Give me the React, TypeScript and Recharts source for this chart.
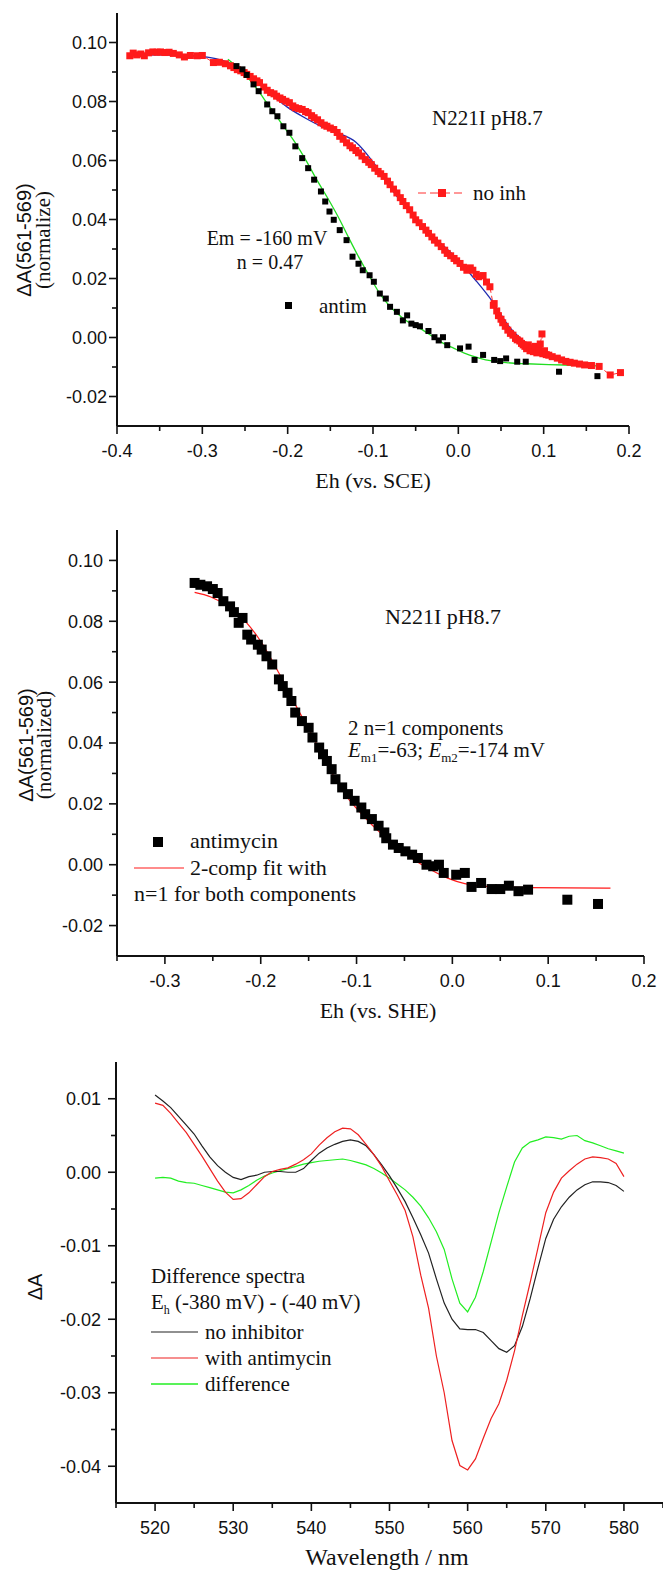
import React from 'react';
import { ComposedChart, XAxis, YAxis, Scatter, Line } from 'recharts';

// ---- panel 1: Eh (vs. SCE) titration ----
const p1XMajor = [-0.4, -0.3, -0.2, -0.1, 0.0, 0.1, 0.2];
const p1XMinor = [-0.35, -0.25, -0.15, -0.05, 0.05, 0.15];
const p1YMajor = [-0.02, 0.0, 0.02, 0.04, 0.06, 0.08, 0.1];
const p1YMinor = [-0.01, 0.01, 0.03, 0.05, 0.07, 0.09];

// red squares, no inhibitor [Eh, dA]
const noInhPoints: [number, number][] = [
  [-0.385, 0.0955], [-0.381, 0.0964], [-0.377, 0.0958], [-0.372, 0.0961], [-0.368, 0.0955], [-0.363, 0.0965],
  [-0.358, 0.0968], [-0.353, 0.0967], [-0.349, 0.0968], [-0.344, 0.0966], [-0.339, 0.0967], [-0.334, 0.0963],
  [-0.327, 0.0958], [-0.321, 0.0951], [-0.314, 0.0956], [-0.306, 0.0955], [-0.3, 0.0956], [-0.287, 0.0932],
  [-0.28, 0.0933], [-0.273, 0.0928], [-0.267, 0.0921], [-0.263, 0.0915], [-0.259, 0.0908], [-0.255, 0.0904],
  [-0.251, 0.0898], [-0.248, 0.0892], [-0.244, 0.0885], [-0.24, 0.0877], [-0.236, 0.087], [-0.233, 0.0864],
  [-0.228, 0.0849], [-0.224, 0.0838], [-0.22, 0.083], [-0.216, 0.0826], [-0.213, 0.0818], [-0.209, 0.0812],
  [-0.206, 0.0807], [-0.202, 0.0801], [-0.198, 0.0796], [-0.194, 0.0785], [-0.191, 0.0779], [-0.187, 0.0776],
  [-0.183, 0.0773], [-0.179, 0.0766], [-0.176, 0.0762], [-0.172, 0.0752], [-0.169, 0.0745], [-0.165, 0.0738],
  [-0.161, 0.0728], [-0.157, 0.072], [-0.154, 0.0716], [-0.15, 0.071], [-0.146, 0.0705], [-0.142, 0.0695],
  [-0.139, 0.0682], [-0.135, 0.0672], [-0.131, 0.066], [-0.127, 0.065], [-0.124, 0.0643], [-0.12, 0.0634],
  [-0.117, 0.0626], [-0.113, 0.0615], [-0.109, 0.0603], [-0.105, 0.0594], [-0.102, 0.0586], [-0.098, 0.0574],
  [-0.094, 0.0563], [-0.091, 0.0555], [-0.087, 0.0546], [-0.083, 0.053], [-0.08, 0.0518], [-0.076, 0.0503],
  [-0.072, 0.049], [-0.068, 0.0474], [-0.065, 0.0461], [-0.061, 0.0447], [-0.057, 0.0433], [-0.053, 0.0415],
  [-0.05, 0.0399], [-0.046, 0.0389], [-0.042, 0.0376], [-0.038, 0.0364], [-0.035, 0.0353], [-0.031, 0.0341],
  [-0.028, 0.033], [-0.024, 0.032], [-0.02, 0.0308], [-0.016, 0.0296], [-0.013, 0.0285], [-0.009, 0.0277],
  [-0.005, 0.0268], [-0.002, 0.026], [0.002, 0.0251], [0.006, 0.0238], [0.01, 0.0228], [0.014, 0.0236],
  [0.017, 0.0228], [0.021, 0.0214], [0.024, 0.0206], [0.029, 0.021], [0.033, 0.0188], [0.037, 0.0172],
  [0.041, 0.0109], [0.042, 0.0115], [0.045, 0.009], [0.047, 0.0074], [0.05, 0.0062], [0.052, 0.005],
  [0.055, 0.0038], [0.058, 0.0025], [0.061, 0.0014], [0.064, 0.0008], [0.067, -0.0003], [0.069, -0.0008],
  [0.072, -0.0012], [0.074, -0.002], [0.076, -0.0025], [0.078, -0.003], [0.08, -0.0038], [0.082, -0.0025],
  [0.084, -0.0045], [0.086, -0.0035], [0.088, -0.0048], [0.09, -0.003], [0.092, -0.0052], [0.094, -0.004],
  [0.096, -0.0022], [0.098, 0.0012], [0.099, -0.0055], [0.101, -0.0045], [0.103, -0.0058], [0.106, -0.006],
  [0.11, -0.0065], [0.116, -0.007], [0.121, -0.0076], [0.126, -0.0081], [0.131, -0.0084], [0.136, -0.0087],
  [0.142, -0.009], [0.148, -0.0093], [0.156, -0.0095], [0.165, -0.0098], [0.178, -0.0127], [0.19, -0.0119],
];

// blue fit through no-inhibitor data
const noInhFit: [number, number][] = [
  [-0.385, 0.0957], [-0.35, 0.0958], [-0.32, 0.0955], [-0.3, 0.0952], [-0.28, 0.0942], [-0.26, 0.092],
  [-0.24, 0.0877], [-0.22, 0.0825], [-0.2, 0.078], [-0.18, 0.0745], [-0.16, 0.0715], [-0.14, 0.0692],
  [-0.12, 0.0662], [-0.1, 0.0595], [-0.08, 0.051], [-0.06, 0.0435], [-0.04, 0.0372], [-0.02, 0.0318],
  [0.0, 0.0262], [0.02, 0.0195], [0.04, 0.0122], [0.06, 0.0035], [0.08, -0.002], [0.1, -0.006],
  [0.12, -0.008], [0.14, -0.009], [0.16, -0.0095],
];

// black squares, antimycin (SCE scale)
const antimPoints: [number, number][] = [
  [-0.26, 0.092], [-0.253, 0.0909], [-0.248, 0.089], [-0.24, 0.0858], [-0.234, 0.0835], [-0.224, 0.079],
  [-0.218, 0.0767], [-0.212, 0.075], [-0.205, 0.0716], [-0.198, 0.0694], [-0.191, 0.0648], [-0.183, 0.0608],
  [-0.176, 0.0574], [-0.169, 0.0535], [-0.161, 0.0495], [-0.156, 0.0461], [-0.151, 0.0427], [-0.146, 0.0399],
  [-0.139, 0.0364], [-0.131, 0.033], [-0.124, 0.0274], [-0.117, 0.025], [-0.112, 0.0228], [-0.104, 0.0211],
  [-0.099, 0.0189], [-0.092, 0.0149], [-0.085, 0.0132], [-0.08, 0.0104], [-0.072, 0.0087], [-0.065, 0.0058],
  [-0.06, 0.0075], [-0.055, 0.0047], [-0.05, 0.0042], [-0.045, 0.0038], [-0.035, 0.0022], [-0.028, 0.0001],
  [-0.023, -0.001], [-0.018, 0.0001], [-0.013, -0.0026], [0.002, -0.0037], [0.012, -0.0031], [0.019, -0.0076],
  [0.029, -0.0059], [0.042, -0.0076], [0.049, -0.008], [0.056, -0.0071], [0.069, -0.0082], [0.079, -0.0082],
  [0.118, -0.0116], [0.163, -0.0131],
];

// green fit (Em = -160 mV, n = 0.47)
const antimFit: [number, number][] = [
  [-0.27, 0.0943], [-0.255, 0.0905], [-0.24, 0.0858], [-0.228, 0.081], [-0.216, 0.0762], [-0.204, 0.0712],
  [-0.191, 0.066], [-0.178, 0.0598], [-0.166, 0.0535], [-0.153, 0.0472], [-0.141, 0.041], [-0.129, 0.0341],
  [-0.117, 0.0274], [-0.104, 0.0207], [-0.092, 0.0149], [-0.08, 0.0105], [-0.067, 0.007], [-0.055, 0.0045],
  [-0.042, 0.0026], [-0.03, 0.0003], [-0.018, -0.0019], [-0.005, -0.0037], [0.007, -0.0053], [0.02, -0.0066],
  [0.032, -0.0076], [0.044, -0.0081], [0.056, -0.0085], [0.08, -0.0089], [0.106, -0.0092], [0.135, -0.0094],
  [0.163, -0.0096],
];

// ---- panel 2: Eh (vs. SHE), antimycin ----
const p2XMajor = [-0.3, -0.2, -0.1, 0.0, 0.1, 0.2];
const p2XMinor = [-0.35, -0.25, -0.15, -0.05, 0.05, 0.15];

const antimycinPoints: [number, number][] = [
  [-0.269, 0.0926], [-0.263, 0.092], [-0.256, 0.0915], [-0.25, 0.0906], [-0.245, 0.0893], [-0.239, 0.0866],
  [-0.232, 0.0849], [-0.228, 0.083], [-0.223, 0.0795], [-0.219, 0.0811], [-0.214, 0.0756], [-0.21, 0.074],
  [-0.203, 0.0723], [-0.199, 0.0707], [-0.194, 0.0685], [-0.188, 0.0658], [-0.181, 0.0609], [-0.177, 0.0587],
  [-0.172, 0.0565], [-0.168, 0.0538], [-0.164, 0.05], [-0.157, 0.0472], [-0.15, 0.045], [-0.146, 0.0418],
  [-0.139, 0.0385], [-0.135, 0.0363], [-0.131, 0.0341], [-0.126, 0.0314], [-0.122, 0.0281], [-0.115, 0.0254],
  [-0.109, 0.0232], [-0.102, 0.021], [-0.095, 0.0188], [-0.091, 0.0166], [-0.084, 0.015], [-0.077, 0.0128],
  [-0.071, 0.0106], [-0.069, 0.0087], [-0.062, 0.0066], [-0.056, 0.0055], [-0.049, 0.0044], [-0.042, 0.0033],
  [-0.036, 0.0022], [-0.027, 0.0], [-0.02, -0.0005], [-0.014, 0.0], [-0.009, -0.0027], [0.004, -0.0033],
  [0.013, -0.0027], [0.02, -0.0073], [0.03, -0.006], [0.041, -0.008], [0.05, -0.008], [0.059, -0.0069],
  [0.069, -0.0087], [0.079, -0.0082], [0.12, -0.0115], [0.152, -0.0129],
];

const twoCompFit: [number, number][] = [
  [-0.269, 0.0895], [-0.252, 0.088], [-0.234, 0.0849], [-0.216, 0.08], [-0.199, 0.0729], [-0.181, 0.063],
  [-0.164, 0.0527], [-0.146, 0.0423], [-0.128, 0.0314], [-0.111, 0.0227], [-0.093, 0.0161], [-0.076, 0.0107],
  [-0.058, 0.006], [-0.04, 0.0016], [-0.023, -0.0016], [-0.005, -0.0044], [0.013, -0.0062], [0.035, -0.0071],
  [0.079, -0.0075], [0.165, -0.0077],
];

// ---- panel 3: difference spectra ----
const p3XMajor = [520, 530, 540, 550, 560, 570, 580];
const p3XMinor = [515, 525, 535, 545, 555, 565, 575, 585];
const p3YMajor = [-0.04, -0.03, -0.02, -0.01, 0.0, 0.01];
const p3YMinor = [-0.035, -0.025, -0.015, -0.005, 0.005];

const wavelengths = [
  520, 521, 522, 523, 524, 525, 526, 527, 528, 529, 530, 531, 532, 533, 534, 535, 536, 537, 538, 539, 540,
  541, 542, 543, 544, 545, 546, 547, 548, 549, 550, 551, 552, 553, 554, 555, 556, 557, 558, 559, 560,
  561, 562, 563, 564, 565, 566, 567, 568, 569, 570, 571, 572, 573, 574, 575, 576, 577, 578, 579, 580,
];
const noInhibitor = [
  0.0105, 0.0097, 0.0088, 0.0076, 0.0064, 0.0052, 0.0036, 0.0021, 0.0009, 0.0, -0.0007,
  -0.001, -0.0006, -0.0004, 0.0, 0.0001, 0.0001, 0.0, 0.0, 0.0005, 0.0016,
  0.0026, 0.0033, 0.0038, 0.0042, 0.0044, 0.0042, 0.0036, 0.0024, 0.001, -0.0005,
  -0.0022, -0.004, -0.0062, -0.0085, -0.011, -0.0145, -0.0178, -0.02, -0.0213, -0.0214,
  -0.0214, -0.0218, -0.0229, -0.024, -0.0245, -0.0236, -0.021, -0.0172, -0.013, -0.009,
  -0.0064, -0.0047, -0.0034, -0.0024, -0.0017, -0.0013, -0.0013, -0.0014, -0.0018, -0.0026,
];
const withAntimycin = [
  0.0094, 0.0091, 0.008, 0.0067, 0.0054, 0.0038, 0.0022, 0.0005, -0.0012, -0.0027, -0.0037,
  -0.0036, -0.0028, -0.0017, -0.0006, 0.0001, 0.0004, 0.0006, 0.0011, 0.0017, 0.0025,
  0.0037, 0.0047, 0.0055, 0.006, 0.0059, 0.0051, 0.0038, 0.0024, 0.0008, -0.0012,
  -0.0031, -0.0052, -0.0088, -0.014, -0.0185, -0.025, -0.03, -0.0365, -0.0399, -0.0405,
  -0.039, -0.0362, -0.0335, -0.0315, -0.0283, -0.0243, -0.0195, -0.015, -0.0103, -0.0055,
  -0.0027, -0.0008, 0.0002, 0.0011, 0.0018, 0.0021, 0.002, 0.0018, 0.0012, -0.0006,
];
const difference = [
  -0.0008, -0.0007, -0.0008, -0.0012, -0.0014, -0.0015, -0.0018, -0.0021, -0.0024, -0.0027, -0.0028,
  -0.0024, -0.0018, -0.0011, -0.0005, -0.0001, 0.0002, 0.0005, 0.0008, 0.0011, 0.0013,
  0.0015, 0.0016, 0.0017, 0.0018, 0.0016, 0.0013, 0.001, 0.0005, -0.0001, -0.0008,
  -0.0016, -0.0024, -0.0034, -0.0046, -0.0062, -0.0081, -0.0105, -0.0145, -0.0178, -0.019,
  -0.017, -0.0135, -0.0095, -0.0055, -0.002, 0.0014, 0.0033, 0.0041, 0.0044, 0.0048,
  0.0047, 0.0045, 0.0049, 0.005, 0.0043, 0.004, 0.0036, 0.0032, 0.0029, 0.0026,
];

const SANS = "'Liberation Sans', Arial, sans-serif";
const SERIF = "'Liberation Serif', 'Times New Roman', serif";

const toXY = (pts: [number, number][]) => pts.map(([x, y]) => ({ x, y }));
const spectrum = wavelengths.map((w, i) => ({
  x: w,
  black: noInhibitor[i],
  red: withAntimycin[i],
  green: difference[i],
}));

const isIn = (list: number[], v: number) => list.some((m) => Math.abs(m - v) < 1e-9);

const bottomTick = (majors: number[], digits: number, fontSize: number) => (props: any) => {
  const { x, y, payload } = props;
  const v = payload.value;
  const major = isIn(majors, v);
  return (
    <g>
      <line x1={x} x2={x} y1={y} y2={y + (major ? 8 : 5)} stroke="#111" strokeWidth={1.6} />
      {major && (
        <text x={x} y={y + 31} textAnchor="middle" fontFamily={SANS} fontSize={fontSize} fill="#111">
          {v.toFixed(digits)}
        </text>
      )}
    </g>
  );
};

const leftTick = (majors: number[], digits: number, fontSize: number, gap: number) => (props: any) => {
  const { x, y, payload } = props;
  const v = payload.value;
  const major = isIn(majors, v);
  return (
    <g>
      <line x1={x - (major ? 8 : 5)} x2={x} y1={y} y2={y} stroke="#111" strokeWidth={1.6} />
      {major && (
        <text x={x - gap} y={y} dy="0.36em" textAnchor="end" fontFamily={SANS} fontSize={fontSize} fill="#111">
          {v.toFixed(digits)}
        </text>
      )}
    </g>
  );
};

const square = (size: number, fill: string) => (props: any) => (
  <rect x={props.cx - size / 2} y={props.cy - size / 2} width={size} height={size} fill={fill} />
);

const axisLine = { stroke: '#111', strokeWidth: 2 };
const sortTicks = (a: number[], b: number[]) => [...a, ...b].sort((p, q) => p - q);

const App: React.FC = () => {
  return (
    <div style={{ position: 'absolute', left: 0, top: 0, width: 663, height: 1570, background: '#fff' }}>
      {/* panel 1 */}
      <div style={{ position: 'absolute', left: 0, top: 0 }}>
        <ComposedChart width={663} height={470} margin={{ top: 13, right: 34, left: 57, bottom: 14 }}>
          <XAxis
            type="number"
            dataKey="x"
            domain={[-0.4, 0.2]}
            ticks={sortTicks(p1XMajor, p1XMinor)}
            interval={0}
            tickSize={0}
            tickMargin={0}
            tickLine={false}
            axisLine={axisLine}
            tick={bottomTick(p1XMajor, 1, 18)}
            allowDataOverflow
          />
          <YAxis
            type="number"
            domain={[-0.03, 0.11]}
            ticks={sortTicks(p1YMajor, p1YMinor)}
            interval={0}
            tickSize={0}
            tickMargin={0}
            tickLine={false}
            axisLine={axisLine}
            tick={leftTick(p1YMajor, 2, 18, 10)}
            width={60}
            allowDataOverflow
          />
          <Line data={toXY(noInhPoints)} dataKey="y" stroke="#ff3030" strokeWidth={1} strokeDasharray="6 3" dot={false} isAnimationActive={false} />
          <Scatter data={toXY(noInhPoints)} dataKey="y" shape={square(7, '#ff1a1a')} isAnimationActive={false} />
          <Scatter data={toXY(antimPoints)} dataKey="y" shape={square(6, '#000')} isAnimationActive={false} />
          <Line data={toXY(noInhFit)} dataKey="y" type="monotone" stroke="#1f2bb0" strokeWidth={1.3} dot={false} isAnimationActive={false} />
          <Line data={toXY(antimFit)} dataKey="y" type="monotone" stroke="#22dd22" strokeWidth={1.3} dot={false} isAnimationActive={false} />
        </ComposedChart>
      </div>

      {/* panel 2 */}
      <div style={{ position: 'absolute', left: 0, top: 500 }}>
        <ComposedChart width={663} height={490} margin={{ top: 30, right: 19, left: 57, bottom: 4 }}>
          <XAxis
            type="number"
            dataKey="x"
            domain={[-0.35, 0.2]}
            ticks={sortTicks(p2XMajor, p2XMinor)}
            interval={0}
            tickSize={0}
            tickMargin={0}
            tickLine={false}
            axisLine={axisLine}
            tick={bottomTick(p2XMajor, 1, 18)}
            allowDataOverflow
          />
          <YAxis
            type="number"
            domain={[-0.03, 0.11]}
            ticks={sortTicks(p1YMajor, p1YMinor)}
            interval={0}
            tickSize={0}
            tickMargin={0}
            tickLine={false}
            axisLine={axisLine}
            tick={leftTick(p1YMajor, 2, 18, 14)}
            width={60}
            allowDataOverflow
          />
          <Scatter data={toXY(antimycinPoints)} dataKey="y" shape={square(10, '#000')} isAnimationActive={false} />
          <Line data={toXY(twoCompFit)} dataKey="y" type="monotone" stroke="#ff1a1a" strokeWidth={1.2} dot={false} isAnimationActive={false} />
        </ComposedChart>
      </div>

      {/* panel 3 */}
      <div style={{ position: 'absolute', left: 0, top: 1040 }}>
        <ComposedChart width={663} height={530} data={spectrum} margin={{ top: 22, right: 0, left: 56, bottom: 37 }}>
          <XAxis
            type="number"
            dataKey="x"
            domain={[515, 585]}
            ticks={sortTicks(p3XMajor, p3XMinor)}
            interval={0}
            tickSize={0}
            tickMargin={0}
            tickLine={false}
            axisLine={axisLine}
            tick={bottomTick(p3XMajor, 0, 18)}
            allowDataOverflow
          />
          <YAxis
            type="number"
            domain={[-0.045, 0.015]}
            ticks={sortTicks(p3YMajor, p3YMinor)}
            interval={0}
            tickSize={0}
            tickMargin={0}
            tickLine={false}
            axisLine={axisLine}
            tick={leftTick(p3YMajor, 2, 18, 15)}
            width={60}
            allowDataOverflow
          />
          <Line dataKey="green" stroke="#22ee22" strokeWidth={1.2} dot={false} isAnimationActive={false} />
          <Line dataKey="black" stroke="#222" strokeWidth={1.2} dot={false} isAnimationActive={false} />
          <Line dataKey="red" stroke="#ee2020" strokeWidth={1.2} dot={false} isAnimationActive={false} />
        </ComposedChart>
      </div>

      {/* text annotations and legends */}
      <svg width={663} height={1570} style={{ position: 'absolute', left: 0, top: 0, pointerEvents: 'none' }}>
        <g fontFamily={SERIF} fill="#111">
          {/* panel 1 */}
          <text x={31} y={240} fontSize={20} fontFamily={SANS} textAnchor="middle" transform="rotate(-90 31 240)">ΔA(561-569)</text>
          <text x={50} y={240} fontSize={21} textAnchor="middle" transform="rotate(-90 50 240)">(normalize)</text>
          <text x={432} y={125} fontSize={21}>N221I pH8.7</text>
          <line x1={418} x2={466} y1={193} y2={193} stroke="#ff3030" strokeWidth={1} strokeDasharray="8 4" />
          <rect x={438} y={189} width={8} height={8} fill="#ff1a1a" />
          <text x={473} y={200} fontSize={21}>no inh</text>
          <text x={267} y={245} fontSize={20} textAnchor="middle">Em = -160 mV</text>
          <text x={270} y={269} fontSize={20} textAnchor="middle">n = 0.47</text>
          <rect x={285} y={302} width={7} height={7} fill="#000" />
          <text x={319} y={313} fontSize={21}>antim</text>
          <text x={373} y={488} fontSize={22} textAnchor="middle">Eh (vs. SCE)</text>

          {/* panel 2 */}
          <text x={33} y={745} fontSize={20} fontFamily={SANS} textAnchor="middle" transform="rotate(-90 33 745)">ΔA(561-569)</text>
          <text x={51} y={745} fontSize={21} textAnchor="middle" transform="rotate(-90 51 745)">(normalized)</text>
          <text x={385} y={624} fontSize={22}>N221I pH8.7</text>
          <text x={348} y={735} fontSize={21}>2 n=1 components</text>
          <text x={348} y={757} fontSize={21}>
            <tspan fontStyle="italic">E</tspan>
            <tspan fontSize={13} dy={5}>m1</tspan>
            <tspan dy={-5}>=-63; </tspan>
            <tspan fontStyle="italic">E</tspan>
            <tspan fontSize={13} dy={5}>m2</tspan>
            <tspan dy={-5}>=-174 mV</tspan>
          </text>
          <rect x={153} y={837} width={10} height={10} fill="#000" />
          <text x={190} y={848} fontSize={22}>antimycin</text>
          <line x1={134} x2={184} y1={868} y2={868} stroke="#ff1a1a" strokeWidth={1.2} />
          <text x={190} y={875} fontSize={22}>2-comp fit with</text>
          <text x={134} y={901} fontSize={22}>n=1 for both components</text>
          <text x={378} y={1018} fontSize={22} textAnchor="middle">Eh (vs. SHE)</text>

          {/* panel 3 */}
          <text x={42} y={1287} fontSize={20} fontFamily={SANS} textAnchor="middle" transform="rotate(-90 42 1287)">ΔA</text>
          <text x={151} y={1283} fontSize={21}>Difference spectra</text>
          <text x={151} y={1309} fontSize={21}>
            <tspan>E</tspan>
            <tspan fontSize={12} dy={5}>h</tspan>
            <tspan dy={-5}> (-380 mV) - (-40 mV)</tspan>
          </text>
          <line x1={151} x2={198} y1={1332} y2={1332} stroke="#222" strokeWidth={1.2} />
          <text x={205} y={1339} fontSize={21}>no inhibitor</text>
          <line x1={151} x2={198} y1={1358} y2={1358} stroke="#ee2020" strokeWidth={1.2} />
          <text x={205} y={1365} fontSize={21}>with antimycin</text>
          <line x1={151} x2={198} y1={1384} y2={1384} stroke="#22ee22" strokeWidth={1.6} />
          <text x={205} y={1391} fontSize={21}>difference</text>
          <text x={387} y={1565} fontSize={24} textAnchor="middle">Wavelength / nm</text>
        </g>
      </svg>
    </div>
  );
};

export default App;
